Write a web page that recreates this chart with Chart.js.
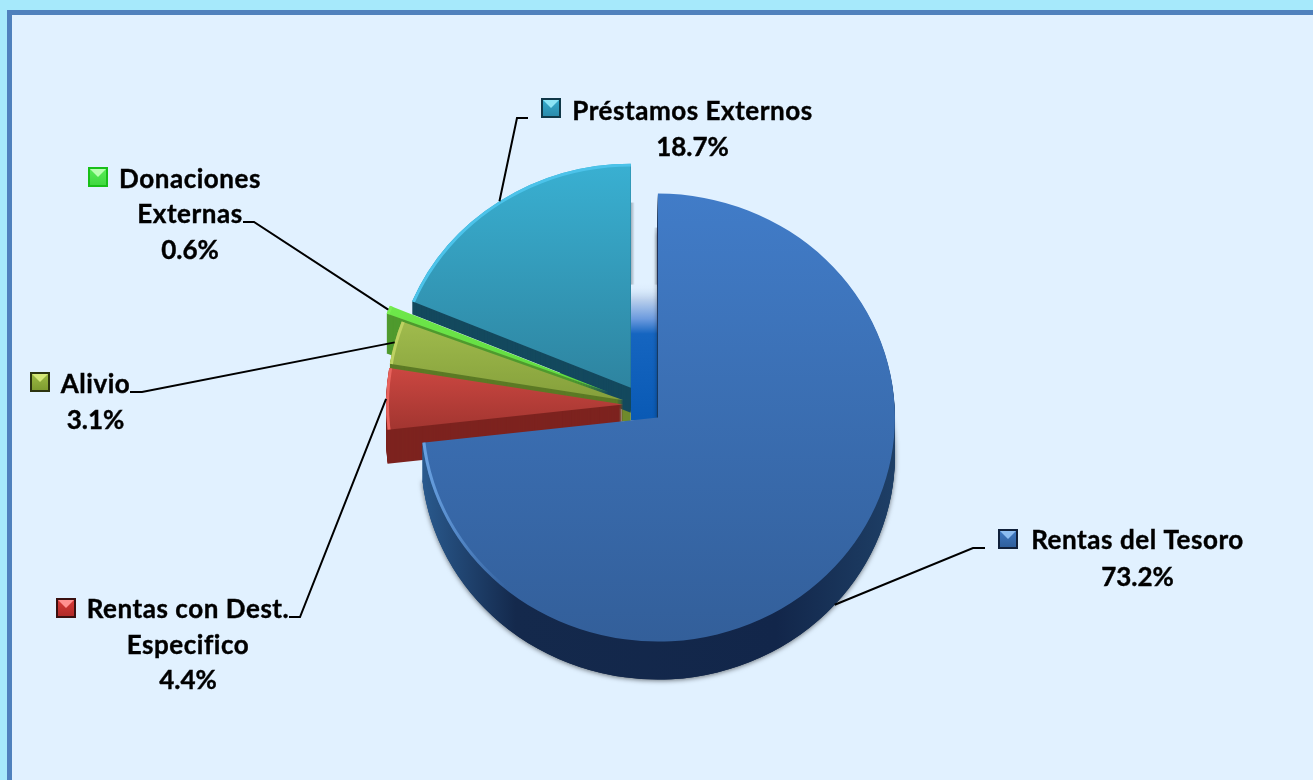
<!DOCTYPE html>
<html>
<head>
<meta charset="utf-8">
<title>Fuentes de financiamiento</title>
<style>
    html, body { margin: 0; height: 100%; background: #a6e9fb; overflow: hidden; }
    #frame { position: absolute; left: 7px; top: 10px; right: -10px; bottom: -10px; background: #e1f1ff;
             border: 5px solid #4f81bd; }
    canvas { position: absolute; left: 0; top: 0; }
</style>
<script src="https://cdn.jsdelivr.net/npm/chart.js@4"></script>
</head>
<body>
<div id="frame"></div>
<canvas id="pie" width="1313" height="780"></canvas>
<script>
const categories = ['Rentas del Tesoro', 'Rentas con Dest. Especifico', 'Alivio', 'Donaciones Externas', 'Préstamos Externos'];
const shares = [73.2, 4.4, 3.1, 0.6, 18.7];

// styles per slice, same order as categories
const faceTop = ['#417cc8', '#cb4741', '#a0bb4d', '#6ee84a', '#39b0d2'];
const faceBottom = ['#335f9a', '#a23530', '#85a03b', '#5fd83e', '#2e84a0'];
const rimColors = [
    [[0, '#6aa2e2'], [0.18, 'rgba(106,162,226,0)']],
    [[0, '#e8635d']], [[0, '#bdd262']], [[0, '#78ee52']], [[0, '#4cc3ea']]
];
const sideColors = [
    [[0, '#2a5a8e'], [0.2, '#14294c'], [0.75, '#12264a'], [1, '#1e3f66']],
    [[0, '#7d231f']], [[0, '#5c7a25']], [[0, '#4f9a2e']], [[0, '#14495e']]
];
const sideDepth = [38, 34, 22, 40, 13];
const sliceOffset = [20, 20, 20, 37, 22];
const leaderDrop = [38, 0, 0, 0, 0];
const drawOrder = [4, 3, 2, 1, 0];
const markerColors = [
    ['#10203a', '#3f78c2', '#2f5f9c', '#8cbcf0'], ['#3a1010', '#d83a38', '#b02a28', '#ff9090'],
    ['#2c3410', '#9cba44', '#7f9c30', '#d4e878'], ['#18c018', '#58ec58', '#40d840', '#b8ffb0'],
    ['#103848', '#36aacc', '#2a8cac', '#8ce4f6']
];

// label text lines: [text, centre x, baseline y]
const labelLines = [
    [['Rentas del Tesoro', 1137.5, 549], ['73.2%', 1137.5, 586]],
    [['Rentas con Dest.', 188, 618], ['Especifico', 188, 654], ['4.4%', 188, 689]],
    [['Alivio', 95.5, 393], ['3.1%', 95.5, 429]],
    [['Donaciones', 190, 188], ['Externas', 190, 223], ['0.6%', 190, 259]],
    [['Préstamos Externos', 692.5, 120], ['18.7%', 692.5, 156]]
];
const markerSpots = [[998, 529], [56, 598], [30, 372], [88, 167], [541, 98]];
const leaderElbows = [
    [[985, 548], [973, 548]], [[289, 617], [300, 617]], [[130, 392], [142, 392]],
    [[243, 222], [254, 222]], [[528, 118], [517, 118]]
];

const yScale = 0.945;
const rimWidth = 3;

function apexOf(arc, i) {
    let mid = (arc.startAngle + arc.endAngle) / 2;
    return {
        x: arc.x + Math.cos(mid) * sliceOffset[i],
        y: arc.y + Math.sin(mid) * sliceOffset[i] * yScale
    };
}

function drawArcAt(ctx, arc, i, dy, fill) {
    let apex = apexOf(arc, i);
    let copy = Object.create(arc);
    copy.options = Object.assign({}, arc.options, { backgroundColor: fill, borderWidth: 0, offset: 0 });
    ctx.save();
    ctx.translate(apex.x, apex.y + dy);
    ctx.scale(1, yScale);
    ctx.translate(-arc.x, -arc.y);
    copy.draw(ctx);
    ctx.restore();
}

// rim is the same arc, only let through a thin ring at the outer edge
function drawRim(ctx, arc, i, fill) {
    let apex = apexOf(arc, i);
    let inner = arc.outerRadius - rimWidth;
    let outer = arc.outerRadius + 2;
    ctx.save();
    ctx.beginPath();
    ctx.ellipse(apex.x, apex.y, outer, outer * yScale, 0, 0, Math.PI * 2);
    ctx.ellipse(apex.x, apex.y, inner, inner * yScale, 0, 0, Math.PI * 2);
    ctx.clip('evenodd');
    drawArcAt(ctx, arc, i, 0, fill);
    ctx.restore();
}

// teal side gets thicker towards its point, the next slices hide the rest of it
function drawTealNose(ctx, arc, i, fill) {
    let apex = apexOf(arc, i);
    ctx.save();
    ctx.beginPath();
    ctx.rect(apex.x - 70, apex.y - 70, 70, 140);
    ctx.clip();
    for (let dy = 25; dy > sideDepth[i]; dy--) {
        drawArcAt(ctx, arc, i, dy, fill);
    }
    ctx.restore();
}

function acrossFill(ctx, arc, stops) {
    if (stops.length === 1) {
        return stops[0][1];
    }
    let g = ctx.createLinearGradient(arc.x - arc.outerRadius, 0, arc.x + arc.outerRadius, 0);
    stops.forEach(s => g.addColorStop(s[0], s[1]));
    return g;
}

function faceFill(ctx, arc, i) {
    // gradient only spans the part of the circle this slice really covers
    let lo = 0, hi = 0;
    for (let n = 0; n <= 40; n++) {
        let s = Math.sin(arc.startAngle + (arc.endAngle - arc.startAngle) * n / 40) * arc.outerRadius;
        lo = Math.min(lo, s);
        hi = Math.max(hi, s);
    }
    let g = ctx.createLinearGradient(0, arc.y + lo, 0, arc.y + hi);
    g.addColorStop(0, faceTop[i]);
    g.addColorStop(1, faceBottom[i]);
    return g;
}

// the inner wall seen through the gap between the blue and teal slices
function drawGapWall(ctx, arcs) {
    let blue = apexOf(arcs[0], 0);
    let teal = apexOf(arcs[4], 4);
    let red = apexOf(arcs[1], 1);
    let top = blue.y - 135;
    let g = ctx.createLinearGradient(0, top, 0, blue.y);
    g.addColorStop(0, 'rgba(225,241,255,0)');
    g.addColorStop(0.12, '#bdd2ed');
    g.addColorStop(0.27, '#6b9ade');
    g.addColorStop(0.38, '#1565c0');
    g.addColorStop(1, '#0a5ab5');
    ctx.fillStyle = g;
    ctx.fillRect(teal.x, top, blue.x - teal.x, blue.y - top + 3);

    // dark corner left of the wall, under the point of the teal slice
    let c = ctx.createLinearGradient(0, teal.y, 0, blue.y);
    c.addColorStop(0, '#14495e');
    c.addColorStop(0.45, '#2c5a40');
    c.addColorStop(0.6, '#6f8a2c');
    c.addColorStop(1, '#6f8a2c');
    ctx.fillStyle = c;
    ctx.fillRect(red.x - 1, teal.y, teal.x - red.x + 1, blue.y - teal.y + 4);

    let s1 = ctx.createLinearGradient(teal.x, 0, teal.x + 4, 0);
    s1.addColorStop(0, 'rgba(80,90,100,0.45)');
    s1.addColorStop(1, 'rgba(80,90,100,0)');
    ctx.fillStyle = s1;
    ctx.fillRect(teal.x, blue.y - 215, 4, 82);
    let s2 = ctx.createLinearGradient(blue.x, 0, blue.x - 4, 0);
    s2.addColorStop(0, 'rgba(80,90,100,0.45)');
    s2.addColorStop(1, 'rgba(80,90,100,0)');
    ctx.fillStyle = s2;
    ctx.fillRect(blue.x - 4, blue.y - 190, 4, 57);
}

function drawLeader(ctx, arc, i) {
    let apex = apexOf(arc, i);
    let mid = (arc.startAngle + arc.endAngle) / 2;
    let pts = leaderElbows[i];
    ctx.beginPath();
    ctx.moveTo(pts[0][0], pts[0][1]);
    ctx.lineTo(pts[1][0], pts[1][1]);
    ctx.lineTo(apex.x + Math.cos(mid) * arc.outerRadius,
               apex.y + Math.sin(mid) * arc.outerRadius * yScale + leaderDrop[i]);
    ctx.strokeStyle = '#000';
    ctx.lineWidth = 2;
    ctx.stroke();
}

function drawMarker(ctx, i) {
    let [x, y] = markerSpots[i];
    let [edge, fillTop, fillBottom, light] = markerColors[i];
    ctx.fillStyle = edge;
    ctx.fillRect(x, y, 20, 20);
    let g = ctx.createLinearGradient(0, y + 2, 0, y + 18);
    g.addColorStop(0, fillTop);
    g.addColorStop(1, fillBottom);
    ctx.fillStyle = g;
    ctx.fillRect(x + 2, y + 2, 16, 16);
    ctx.fillStyle = light;
    ctx.beginPath();
    ctx.moveTo(x + 2, y + 2);
    ctx.lineTo(x + 18, y + 2);
    ctx.lineTo(x + 10, y + 10);
    ctx.closePath();
    ctx.fill();
}

const pie3d = {
    id: 'pie3d',
    beforeDatasetDraw(chart, args) {
        let ctx = chart.ctx;
        let arcs = args.meta.data;
        drawGapWall(ctx, arcs);
        for (let i of drawOrder) {
            let arc = arcs[i];
            let side = acrossFill(ctx, arc, sideColors[i]);
            if (i === 0) {
                // soft shadow under the big slice only
                ctx.save();
                ctx.shadowColor = 'rgba(0,0,0,0.55)';
                ctx.shadowBlur = 5;
                ctx.shadowOffsetY = 1;
                drawArcAt(ctx, arc, i, sideDepth[i], side);
                ctx.restore();
            }
            if (i === 4) {
                drawTealNose(ctx, arc, i, side);
            }
            for (let dy = sideDepth[i]; dy >= 1; dy--) {
                drawArcAt(ctx, arc, i, dy, side);
            }
            drawArcAt(ctx, arc, i, 0, faceFill(ctx, arc, i));
            drawRim(ctx, arc, i, acrossFill(ctx, arc, rimColors[i]));
        }
        return false; // slices are done, skip the flat default pass
    },
    afterDraw(chart) {
        let ctx = chart.ctx;
        let arcs = chart.getDatasetMeta(0).data;
        arcs.forEach((arc, i) => {
            drawLeader(ctx, arc, i);
            drawMarker(ctx, i);
        });
        ctx.fillStyle = '#000';
        ctx.strokeStyle = '#000';
        ctx.lineWidth = 0.4;
        ctx.font = 'bold 26px Lato';
        ctx.textAlign = 'center';
        ctx.textBaseline = 'alphabetic';
        for (let lines of labelLines) {
            for (let [text, x, y] of lines) {
                // Lato runs narrower than the original face on words, not on numbers
                ctx.letterSpacing = text.includes('%') ? '0px' : '0.55px';
                ctx.fillText(text, x, y);
                ctx.strokeText(text, x, y);
            }
        }
    }
};

new Chart(document.getElementById('pie'), {
    type: 'pie',
    data: {
        labels: categories,
        datasets: [{ data: shares, backgroundColor: faceTop, borderWidth: 0 }]
    },
    plugins: [pie3d],
    options: {
        responsive: false,
        animation: false,
        events: [],
        rotation: 0,
        layout: { padding: { left: 406, right: 433, top: 168, bottom: 138 } },
        plugins: { legend: { display: false }, tooltip: { enabled: false } }
    }
});
</script>
</body>
</html>
